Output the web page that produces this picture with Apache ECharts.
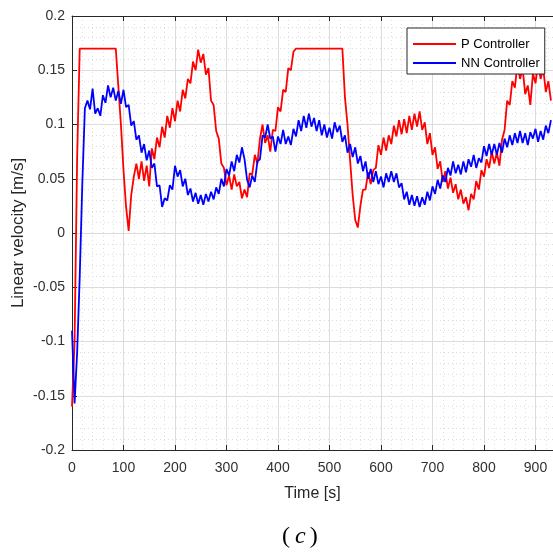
<!DOCTYPE html>
<html>
<head>
<meta charset="utf-8">
<script src="https://cdn.jsdelivr.net/npm/echarts@6/dist/echarts.min.js"></script>
<style>
html,body{margin:0;padding:0;background:#fff;}
#chart{width:553px;height:558px;}
</style>
</head>
<body>
<div id="chart"></div>
<script>
// Time samples [s]
const time = [
  0,5,10,15,20,25,30,35,40,45,50,55,60,65,70,75,80,85,90,95,
  100,105,110,115,120,125,130,135,140,145,150,155,160,165,170,175,180,185,190,195,
  200,205,210,215,220,225,230,235,240,245,250,255,260,265,270,275,280,285,290,295,
  300,305,310,315,320,325,330,335,340,345,350,355,360,365,370,375,380,385,390,395,
  400,405,410,415,420,425,430,435,440,445,450,455,460,465,470,475,480,485,490,495,
  500,505,510,515,520,525,530,535,540,545,550,555,560,565,570,575,580,585,590,595,
  600,605,610,615,620,625,630,635,640,645,650,655,660,665,670,675,680,685,690,695,
  700,705,710,715,720,725,730,735,740,745,750,755,760,765,770,775,780,785,790,795,
  800,805,810,815,820,825,830,835,840,845,850,855,860,865,870,875,880,885,890,895,
  900,905,910,915,920,925,930
];
// P Controller linear velocity [m/s]
const pController = [
  -0.16,-0.10,0.07,0.17,0.17,0.17,0.17,0.17,0.17,0.17,0.17,0.17,0.17,0.17,0.17,0.17,0.17,0.17,0.135,0.1,
  0.058,0.024,0.002,0.035,0.052,0.064,0.05,0.066,0.048,0.062,0.043,0.078,0.068,0.088,0.079,0.098,0.088,0.108,0.097,0.115,
  0.103,0.122,0.112,0.132,0.124,0.142,0.138,0.158,0.15,0.169,0.157,0.165,0.146,0.152,0.122,0.118,0.094,0.087,0.064,0.06,
  0.044,0.053,0.04,0.054,0.043,0.047,0.032,0.04,0.033,0.055,0.054,0.072,0.064,0.087,0.1,0.083,0.09,0.075,0.095,0.094,
  0.116,0.112,0.132,0.13,0.152,0.15,0.167,0.17,0.17,0.17,0.17,0.17,0.17,0.17,0.17,0.17,0.17,0.17,0.17,0.17,
  0.17,0.17,0.17,0.17,0.17,0.17,0.125,0.1,0.067,0.035,0.012,0.005,0.025,0.04,0.04,0.056,0.045,0.058,0.06,0.081,
  0.072,0.088,0.076,0.09,0.082,0.099,0.089,0.104,0.091,0.105,0.092,0.108,0.095,0.11,0.098,0.112,0.095,0.102,0.082,0.092,
  0.072,0.079,0.059,0.066,0.047,0.057,0.041,0.051,0.037,0.045,0.031,0.04,0.027,0.033,0.021,0.036,0.031,0.048,0.04,0.058,
  0.052,0.068,0.06,0.075,0.064,0.074,0.062,0.086,0.095,0.122,0.118,0.14,0.134,0.156,0.142,0.152,0.128,0.136,0.118,0.147,
  0.138,0.157,0.142,0.152,0.13,0.14,0.122
];
// NN Controller linear velocity [m/s]
const nnController = [
  -0.09,-0.157,-0.11,-0.04,0.045,0.115,0.122,0.114,0.133,0.11,0.115,0.108,0.127,0.12,0.136,0.125,0.134,0.122,0.131,0.119,
  0.132,0.116,0.118,0.099,0.103,0.086,0.09,0.074,0.082,0.067,0.076,0.06,0.064,0.043,0.044,0.024,0.032,0.03,0.044,0.04,
  0.062,0.052,0.058,0.043,0.05,0.035,0.041,0.029,0.037,0.027,0.035,0.026,0.036,0.029,0.038,0.031,0.042,0.036,0.05,0.043,
  0.059,0.053,0.066,0.057,0.072,0.065,0.079,0.068,0.049,0.042,0.053,0.047,0.066,0.068,0.09,0.088,0.1,0.087,0.089,0.075,
  0.089,0.082,0.095,0.082,0.089,0.081,0.096,0.089,0.104,0.094,0.108,0.097,0.11,0.098,0.106,0.094,0.104,0.09,0.1,0.088,
  0.097,0.087,0.102,0.093,0.099,0.084,0.09,0.074,0.082,0.07,0.079,0.064,0.071,0.057,0.066,0.05,0.059,0.047,0.057,0.045,
  0.052,0.042,0.055,0.047,0.057,0.047,0.055,0.042,0.046,0.031,0.038,0.026,0.035,0.025,0.034,0.024,0.033,0.026,0.038,0.03,
  0.043,0.036,0.049,0.041,0.053,0.047,0.06,0.053,0.066,0.055,0.063,0.054,0.066,0.056,0.068,0.061,0.072,0.06,0.069,0.065,
  0.08,0.071,0.082,0.072,0.082,0.072,0.083,0.074,0.087,0.079,0.09,0.081,0.092,0.083,0.094,0.083,0.092,0.081,0.093,0.087,
  0.096,0.084,0.094,0.086,0.099,0.092,0.104
];
const seriesNames = ['P Controller', 'NN Controller'];
const seriesColors = ['#ff0000', '#0000ff'];

const chart = echarts.init(document.getElementById('chart'), null, {renderer: 'canvas'});
const font = "'Liberation Sans', Arial, sans-serif";
const axisColor = '#262626';
const tickColor = '#303030';

const toPairs = arr => arr.map((v, i) => [time[i], v]);

const option = {
  animation: false,
  backgroundColor: '#fff',
  grid: {left: 72, top: 16, right: 0, bottom: 108, containLabel: false, outerBoundsMode: 'none'},
  legend: {
    orient: 'vertical',
    left: 407, top: 28,
    padding: [9, 5, 4, 5],
    itemGap: 5,
    itemWidth: 43, itemHeight: 14,
    backgroundColor: '#fff',
    borderColor: axisColor, borderWidth: 1,
    itemStyle: {opacity: 0},
    textStyle: {fontFamily: font, fontSize: 13, color: '#000', lineHeight: 14},
    data: seriesNames
  },
  xAxis: [{
    type: 'value', min: 0, max: 934, interval: 100,
    name: 'Time [s]', nameLocation: 'middle', nameGap: 36, nameMoveOverlap: false,
    nameTextStyle: {fontFamily: font, fontSize: 16, color: axisColor},
    axisLine: {show: true, onZero: false, lineStyle: {color: axisColor, width: 1}},
    axisTick: {show: true, inside: true, length: 5, lineStyle: {color: axisColor}},
    axisLabel: {fontFamily: font, fontSize: 14, color: tickColor, margin: 11, showMaxLabel: false},
    splitLine: {show: true, lineStyle: {color: '#dcdcdc', width: 1}},
    minorTick: {show: false, splitNumber: 5},
    minorSplitLine: {show: true, lineStyle: {color: '#dedede', width: 1, type: [1, 3]}}
  }, {
    type: 'value', min: 0, max: 934, interval: 100, position: 'top',
    axisLine: {show: true, onZero: false, lineStyle: {color: axisColor, width: 1}},
    axisTick: {show: true, inside: true, length: 5, lineStyle: {color: axisColor}},
    axisLabel: {show: false}, splitLine: {show: false}
  }],
  yAxis: {
    type: 'value', min: -0.2, max: 0.2, interval: 0.05,
    name: 'Linear velocity [m/s]', nameLocation: 'middle', nameGap: 45, nameMoveOverlap: false,
    nameTextStyle: {fontFamily: font, fontSize: 17, color: axisColor},
    axisLine: {show: true, onZero: false, lineStyle: {color: axisColor, width: 1}},
    axisTick: {show: true, inside: true, length: 5, lineStyle: {color: axisColor}},
    axisLabel: {fontFamily: font, fontSize: 14, color: tickColor, margin: 7,
      formatter: v => String(parseFloat(v.toFixed(2)))},
    splitLine: {show: true, lineStyle: {color: '#dcdcdc', width: 1}},
    minorTick: {show: false, splitNumber: 5},
    minorSplitLine: {show: true, lineStyle: {color: '#dedede', width: 1, type: [1, 3]}}
  },
  series: [
    {name: seriesNames[0], type: 'line', data: toPairs(pController), showSymbol: false, symbol: 'none',
     lineStyle: {color: seriesColors[0], width: 1.8}, itemStyle: {color: seriesColors[0]}, clip: true, z: 2},
    {name: seriesNames[1], type: 'line', data: toPairs(nnController), showSymbol: false, symbol: 'none',
     lineStyle: {color: seriesColors[1], width: 1.8}, itemStyle: {color: seriesColors[1]}, clip: true, z: 3}
  ],
  graphic: [{
    type: 'text', left: 282, top: 525,
    style: {
      text: '{p|(}{c|c}{p|)}',
      rich: {
        p: {fontFamily: "'Liberation Serif', serif", fontSize: 24, fill: '#000'},
        c: {fontFamily: "'Liberation Serif', serif", fontStyle: 'italic', fontSize: 24, fill: '#000', padding: [0, 4, 0, 5]}
      }
    }
  }]
};
chart.setOption(option);
</script>
</body>
</html>
